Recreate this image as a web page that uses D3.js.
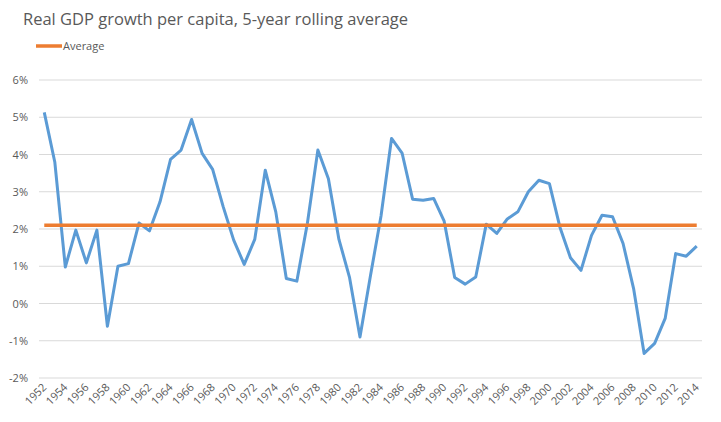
<!DOCTYPE html>
<html>
<head>
<meta charset="utf-8">
<script src="https://cdn.jsdelivr.net/npm/d3@7"></script>
<style>
  body { margin: 0; background: #fff; }
  svg { display: block; font-family: "Open Sans", "Noto Sans", sans-serif; }
</style>
</head>
<body>
<div id="chart"></div>
<script>
// data
const years = d3.range(1952, 2015);
const growth = [
    5.13, 3.80, 0.98, 1.97, 1.09, 1.97, -0.61, 1.00, 1.07, 2.16,
    1.95, 2.73, 3.87, 4.12, 4.94, 4.03, 3.60, 2.60, 1.70, 1.05,
    1.72, 3.58, 2.46, 0.67, 0.60, 2.15, 4.12, 3.35, 1.72, 0.71,
    -0.90, 0.75, 2.35, 4.43, 4.04, 2.80, 2.77, 2.82, 2.21, 0.70,
    0.52, 0.71, 2.13, 1.88, 2.27, 2.46, 3.00, 3.31, 3.22, 2.05,
    1.23, 0.89, 1.83, 2.37, 2.33, 1.61, 0.40, -1.34, -1.07, -0.40,
    1.34, 1.27, 1.54
];
const averageValue = 2.10;
const yTicks = [-2, -1, 0, 1, 2, 3, 4, 5, 6];

const width = 721, height = 422;
const margin = { top: 80, right: 19, bottom: 44, left: 39 };

const svg = d3.select("#chart")
    .append("svg")
    .attr("width", width)
    .attr("height", height);

const x = d3.scaleBand()
    .domain(years)
    .range([margin.left, width - margin.right]);

const y = d3.scaleLinear()
    .domain([-2, 6])
    .range([height - margin.bottom, margin.top]);

const cx = d => x(d) + x.bandwidth() / 2;

// =============================
// TITLE & LEGEND
// =============================
svg.append("text")
    .attr("x", 23)
    .attr("y", 25)
    .attr("fill", "#595959")
    .attr("font-size", 16.5)
    .text("Real GDP growth per capita, 5-year rolling average");

svg.append("line")
    .attr("x1", 36).attr("x2", 62)
    .attr("y1", 46).attr("y2", 46)
    .attr("stroke", "#ed7d31")
    .attr("stroke-width", 3.5);

svg.append("text")
    .attr("x", 63)
    .attr("y", 50)
    .attr("fill", "#595959")
    .attr("font-size", 11)
    .text("Average");

// =============================
// GRID + Y AXIS
// =============================
svg.append("g")
    .selectAll("line")
    .data(yTicks)
    .enter()
    .append("line")
    .attr("x1", margin.left)
    .attr("x2", width - margin.right)
    .attr("y1", d => y(d))
    .attr("y2", d => y(d))
    .attr("stroke", "#d9d9d9")
    .attr("stroke-width", 1);

svg.append("g")
    .selectAll("text")
    .data(yTicks)
    .enter()
    .append("text")
    .attr("x", 28)
    .attr("y", d => y(d) + 4)
    .attr("text-anchor", "end")
    .attr("fill", "#595959")
    .attr("font-size", 11)
    .text(d => d + "%");

// =============================
// X LABELS (every 2nd year)
// =============================
svg.append("g")
    .selectAll("text")
    .data(years.filter((d, i) => i % 2 === 0))
    .enter()
    .append("text")
    .attr("transform", d => `translate(${cx(d) + 3},${height - margin.bottom + 10}) rotate(-45)`)
    .attr("text-anchor", "end")
    .attr("fill", "#595959")
    .attr("font-size", 11)
    .text(d => d);

// =============================
// SERIES
// =============================
const line = d3.line()
    .x((d, i) => cx(years[i]))
    .y(d => y(d));

svg.append("path")
    .datum(growth)
    .attr("fill", "none")
    .attr("stroke", "#5b9bd5")
    .attr("stroke-width", 3)
    .attr("stroke-linejoin", "round")
    .attr("d", line);

svg.append("line")
    .attr("x1", cx(years[0]))
    .attr("x2", cx(years[years.length - 1]))
    .attr("y1", y(averageValue))
    .attr("y2", y(averageValue))
    .attr("stroke", "#ed7d31")
    .attr("stroke-width", 3.5);
</script>
</body>
</html>
